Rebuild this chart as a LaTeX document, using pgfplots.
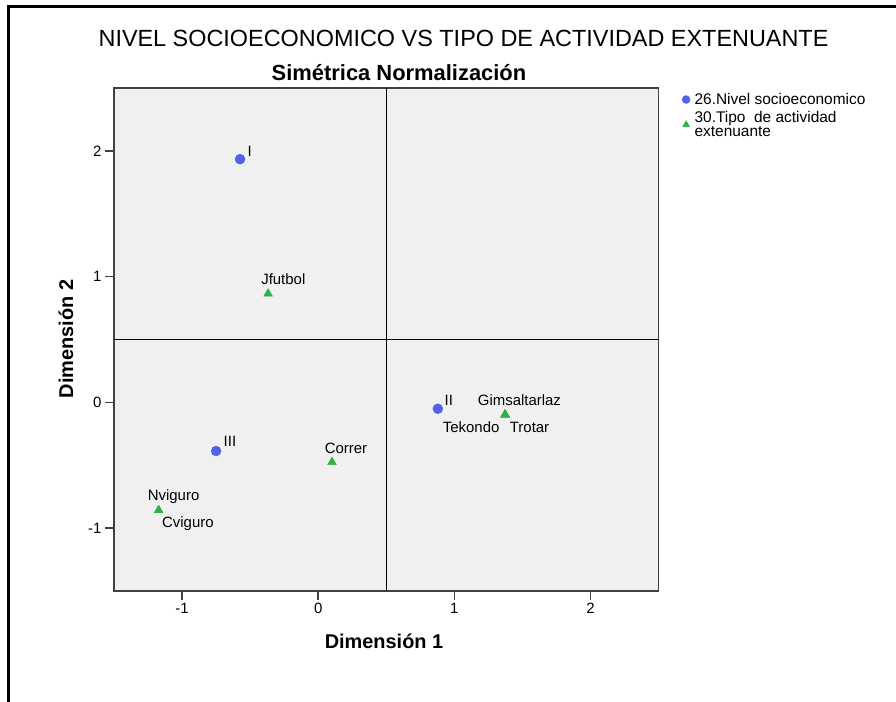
\documentclass[border=0pt]{standalone}
\usepackage{fontspec}
\setmainfont{Liberation Sans}
\usepackage{pgfplots}
\pgfplotsset{compat=1.18}
\definecolor{ptblue}{RGB}{82,98,232}
\definecolor{ptgreen}{RGB}{46,178,72}
\definecolor{bgcol}{RGB}{240,240,240}
\definecolor{axgray}{RGB}{64,64,64}
\begin{document}
\begin{tikzpicture}[x=1bp,y=1bp]
\path[use as bounding box] (0,0) rectangle (896,702);
\draw[line width=2.5bp] (8.5,0) -- (8.5,695.5) -- (896,695.5);
\node[font=\fontsize{23.5}{28}\selectfont] at (463.5,664) {NIVEL SOCIOECONOMICO VS TIPO DE ACTIVIDAD EXTENUANTE};
\node[font=\fontsize{22}{26}\selectfont\bfseries] at (399,629) {Simétrica Normalización};
\node[font=\fontsize{20}{24}\selectfont\bfseries] at (384,61) {Dimensión 1};
\node[font=\fontsize{20}{24}\selectfont\bfseries, rotate=90] at (66,363) {Dimensión 2};
\begin{axis}[
  at={(114bp,111bp)}, anchor=south west, scale only axis,
  width=544.5bp, height=503bp,
  xmin=-1.5, xmax=2.5, ymin=-1.5, ymax=2.5,
  xtick={-1,0,1,2}, ytick={-1,0,1,2},
  axis background/.style={fill=bgcol},
  axis line style={axgray, line width=1.4bp},
  every tick/.style={axgray, line width=1.4bp},
  tick align=outside, major tick length=9bp,
  xtick pos=bottom, ytick pos=left,
  ticklabel style={font=\fontsize{15}{17}\selectfont},
  /pgf/number format/assume math mode=true,
  clip=false,
  legend style={at={(axis description cs:1.043,0.994)}, anchor=north west,
    draw=none, fill=none, inner sep=0pt, row sep=1bp,
    font=\fontsize{15.5}{15}\selectfont,
    nodes={inner xsep=4.5bp},
    cells={anchor=west, align=left}},
  legend image post style={mark size=4bp},
]
\draw[black, line width=1bp] (axis cs:0.5,-1.5) -- (axis cs:0.5,2.5);
\draw[black, line width=1bp] (axis cs:-1.5,0.5) -- (axis cs:2.5,0.5);
\addplot[only marks, mark=*, mark size=5bp, color=ptblue, mark options={draw=ptblue, fill=ptblue}]
  coordinates {(-0.574,1.934) (0.879,-0.051) (-0.750,-0.387)};
\addlegendentry{26.Nivel socioeconomico}
\addplot[only marks, mark=triangle*, mark size=5bp, color=ptgreen, mark options={draw=ptgreen, fill=ptgreen}]
  coordinates {(-0.368,0.865) (0.101,-0.475) (-1.172,-0.858) (-1.172,-0.858) (1.373,-0.097) (1.373,-0.097) (1.373,-0.097)};
\addlegendentry{30.Tipo\ \ de actividad\\extenuante}
\begin{scope}[every node/.style={font=\fontsize{15}{17}\selectfont, inner sep=0pt, anchor=base west}]
\node[xshift=7.4bp, yshift=2.5bp] at (axis cs:-0.574,1.934) {I};
\node[xshift=-7bp, yshift=8.8bp] at (axis cs:-0.368,0.865) {Jfutbol};
\node[xshift=7.4bp, yshift=4.5bp] at (axis cs:-0.750,-0.387) {III};
\node[xshift=-7.3bp, yshift=8.8bp] at (axis cs:0.101,-0.475) {Correr};
\node[xshift=-11bp, yshift=9.4bp] at (axis cs:-1.172,-0.858) {Nviguro};
\node[xshift=3.3bp, yshift=-17.3bp] at (axis cs:-1.172,-0.858) {Cviguro};
\node[xshift=6.7bp, yshift=3.2bp] at (axis cs:0.879,-0.051) {II};
\node[xshift=-27.4bp, yshift=9.2bp] at (axis cs:1.373,-0.097) {Gimsaltarlaz};
\node[xshift=-62.4bp, yshift=-17.5bp] at (axis cs:1.373,-0.097) {Tekondo};
\node[xshift=4.6bp, yshift=-17.5bp] at (axis cs:1.373,-0.097) {Trotar};
\end{scope}
\end{axis}
\end{tikzpicture}
\end{document}
